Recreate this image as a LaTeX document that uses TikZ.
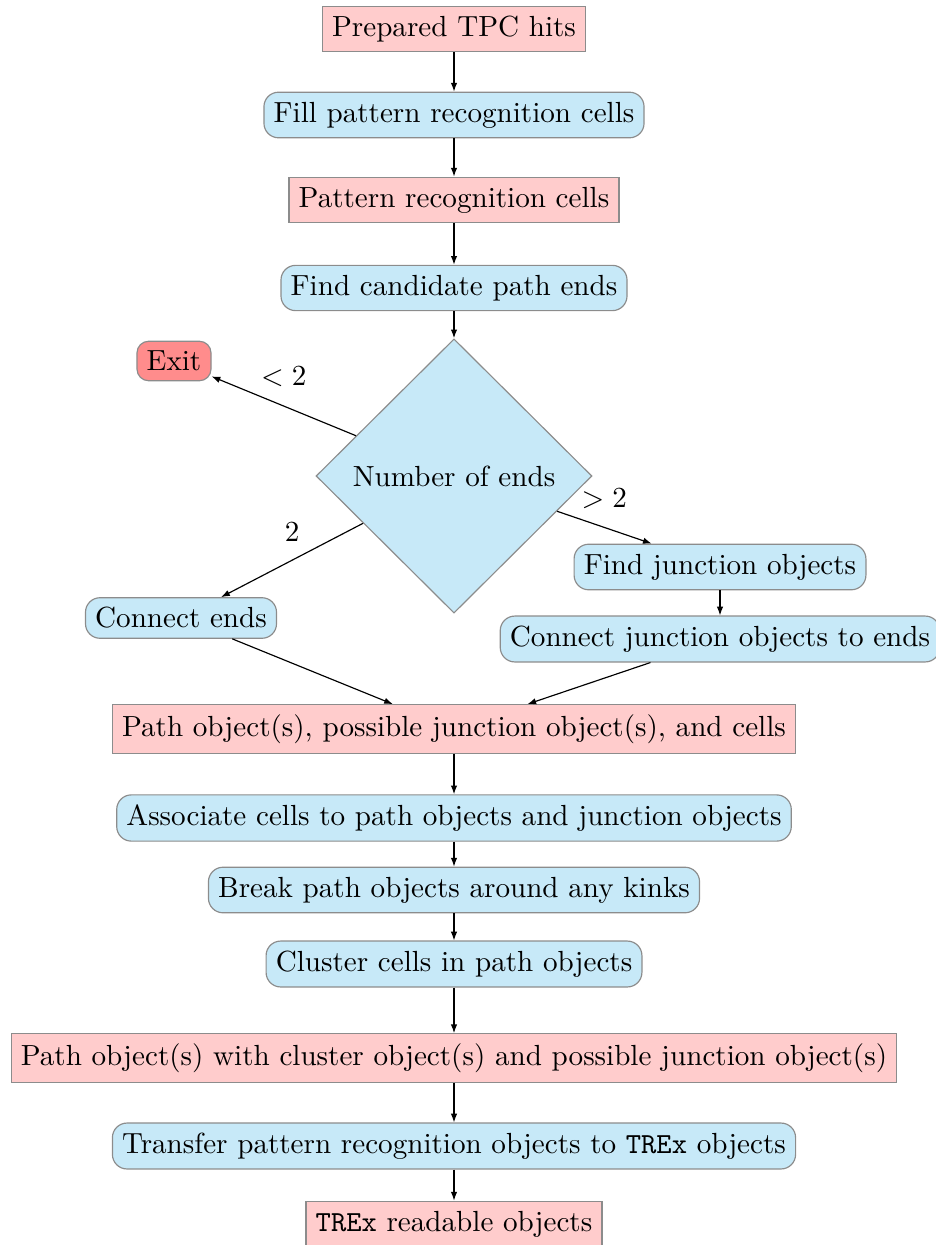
\documentclass[tikz,border=0pt]{standalone}
\usepackage{tikz}
\usetikzlibrary{arrows.meta, positioning, shapes.geometric}
\definecolor{procblue}{RGB}{199,233,248}

\begin{document}
\begin{tikzpicture}[x=0.01207cm, y=-0.01207cm,
  datanode/.style={draw=black!45, fill=red!20, inner sep=3.33pt},
  procnode/.style={draw=black!45, fill=procblue, rounded corners=5pt, inner sep=3.33pt},
  exitnode/.style={draw=black!45, fill=red!45, rounded corners=4pt, inner sep=3.33pt},
  decnode/.style={draw=black!45, fill=procblue, diamond, minimum width=3.33cm, minimum height=3.31cm, inner sep=0pt},
  flow/.style={-{Latex[length=3pt, width=2.2pt]}}]
\useasboundingbox (0,0) rectangle (936,1245);
% main column
\node[datanode] (hits) at (454, 29) {Prepared TPC hits};
\node[procnode] (fill) at (454, 115) {Fill pattern recognition cells};
\node[datanode] (cells) at (454, 200) {Pattern recognition cells};
\node[procnode] (cand) at (454, 288) {Find candidate path ends};
\node[decnode] (nends) at (454, 476) {Number of ends};
% the three branches out of the decision
\node[exitnode] (exit) at (174, 361) {Exit};
\node[procnode] (conn) at (181, 618) {Connect ends};
\node[procnode] (junc) at (720, 567) {Find junction objects};
\node[procnode] (connjunc) at (720, 639) {Connect junction objects to ends};
% merged again
\node[datanode] (paths) at (454, 729) {Path object(s), possible junction object(s), and cells};
\node[procnode] (assoc) at (454, 818) {Associate cells to path objects and junction objects};
\node[procnode] (kinks) at (454, 890) {Break path objects around any kinks};
\node[procnode] (clus) at (454, 964) {Cluster cells in path objects};
\node[datanode] (clusobj) at (454, 1058) {Path object(s) with cluster object(s) and possible junction object(s)};
\node[procnode] (trans) at (454, 1146) {Transfer pattern recognition objects to \texttt{TREx} objects};
\node[datanode] (trex) at (454, 1224) {\texttt{TREx} readable objects};

\draw[flow] (hits) -- (fill);
\draw[flow] (fill) -- (cells);
\draw[flow] (cells) -- (cand);
\draw[flow] (cand) -- (nends);
\draw[flow] (nends) -- node[midway, above=3pt] (lless) {$<2$} (exit);
\draw[flow] (nends) -- node[midway, above=3pt] (ltwo) {$2$} (conn);
\draw[flow] (nends) -- node[midway, above=3pt] (lmore) {$>2$} (junc);
\draw[flow] (junc) -- (connjunc);
\draw[flow] (conn) -- (paths);
\draw[flow] (connjunc) -- (paths);
\draw[flow] (paths) -- (assoc);
\draw[flow] (assoc) -- (kinks);
\draw[flow] (kinks) -- (clus);
\draw[flow] (clus) -- (clusobj);
\draw[flow] (clusobj) -- (trans);
\draw[flow] (trans) -- (trex);
\end{tikzpicture}
\end{document}
